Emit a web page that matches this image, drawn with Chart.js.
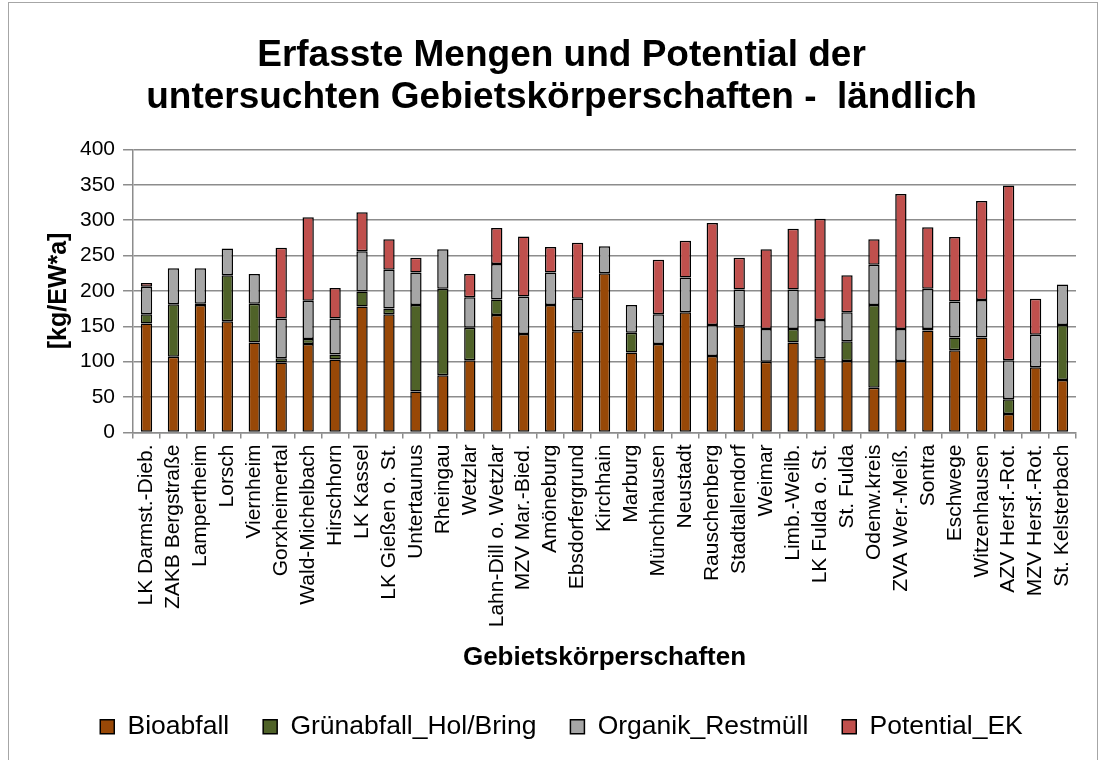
<!DOCTYPE html>
<html>
<head>
<meta charset="utf-8">
<script src="https://cdn.jsdelivr.net/npm/chart.js@4/dist/chart.umd.min.js"></script>
<style>
  html, body { margin: 0; padding: 0; background: #fff; }
  #wrap { position: relative; width: 1100px; height: 760px; }
  #frame { position: absolute; left: 8px; top: 2px; width: 1088px; height: 760px; border: 1px solid #a6a6a6; border-bottom: none; pointer-events: none; }
  canvas { display: block; }
</style>
</head>
<body>
<div id="wrap">
  <canvas id="chart" width="1100" height="760"></canvas>
  <div id="frame"></div>
</div>
<script>
const categories = [
  'LK Darmst.-Dieb.', 'ZAKB Bergstraße', 'Lampertheim', 'Lorsch', 'Viernheim', 'Gorxheimertal',
  'Wald-Michelbach', 'Hirschhorn', 'LK Kassel', 'LK Gießen o. St.', 'Untertaunus', 'Rheingau',
  'Wetzlar', 'Lahn-Dill o. Wetzlar', 'MZV Mar.-Bied.', 'Amöneburg', 'Ebsdorfergrund', 'Kirchhain',
  'Marburg', 'Münchhausen', 'Neustadt', 'Rauschenberg', 'Stadtallendorf', 'Weimar', 'Limb.-Weilb.',
  'LK Fulda o. St.', 'St. Fulda', 'Odenw.kreis', 'ZVA Wer.-Meiß.', 'Sontra', 'Eschwege',
  'Witzenhausen', 'AZV Hersf.-Rot.', 'MZV Hersf.-Rot.', 'St. Kelsterbach'
];

const bioabfall = [154, 107, 180, 157, 127, 99, 125, 103, 178, 167, 58, 81, 102, 166, 139, 180, 143, 225,
  113, 125, 170, 108, 150, 100, 127, 105, 101, 63, 101, 144, 116, 134, 26, 92, 74];
const gruenabfall = [13, 74, 2, 65, 55, 6, 7, 7, 21, 8, 122, 122, 46, 22, 0, 0, 0, 0,
  28, 0, 0, 0, 0, 0, 19, 0, 28, 117, 0, 2, 18, 0, 21, 0, 78];
const organik = [39, 51, 50, 38, 42, 56, 54, 51, 57, 55, 46, 56, 43, 50, 53, 46, 46, 38,
  39, 42, 49, 44, 52, 46, 56, 54, 41, 57, 45, 57, 51, 53, 55, 46, 57];
const potential = [5, 0, 0, 0, 0, 100, 118, 43, 55, 43, 21, 0, 33, 51, 85, 36, 79, 0,
  0, 77, 52, 144, 45, 113, 86, 143, 52, 36, 191, 87, 91, 140, 247, 51, 0];

const yTicks = [0, 50, 100, 150, 200, 250, 300, 350, 400];

const FONT = '"Liberation Sans", Arial, sans-serif';

function ds(label, data, color) {
  return {
    label, data,
    backgroundColor: color,
    borderColor: '#000',
    borderWidth: 1.5,
    borderSkipped: false,
    barPercentage: 0.42,
    categoryPercentage: 1.0,
  };
}

new Chart(document.getElementById('chart'), {
  type: 'bar',
  data: {
    labels: categories,
    datasets: [
      ds('Bioabfall', bioabfall, '#984807'),
      ds('Grünabfall_Hol/Bring', gruenabfall, '#4f6228'),
      ds('Organik_Restmüll', organik, '#a6a6a6'),
      ds('Potential_EK', potential, '#c0504d'),
    ],
  },
  options: {
    responsive: false,
    animation: false,
    layout: { padding: { left: 47, right: 24, top: 8, bottom: 10 } },
    plugins: {
      title: {
        display: true,
        text: ['Erfasste Mengen und Potential der', 'untersuchten Gebietskörperschaften -  ländlich'],
        color: '#000',
        font: { family: FONT, size: 37, weight: 'bold', lineHeight: 1.14 },
        padding: { top: 27, bottom: 30 },
      },
      legend: {
        position: 'bottom',
        labels: {
          color: '#000',
          font: { family: FONT, size: 26.5 },
          boxWidth: 14,
          boxHeight: 14,
          padding: 34,
          generateLabels(chart) {
            return chart.data.datasets.map((d, i) => ({
              text: d.label,
              fillStyle: d.backgroundColor,
              strokeStyle: '#000',
              lineWidth: 1.5,
              datasetIndex: i,
              fontColor: '#000',
            }));
          },
        },
      },
      tooltip: { enabled: false },
    },
    scales: {
      x: {
        stacked: true,
        grid: { display: true, drawOnChartArea: false, tickLength: 6, color: '#8c8c8c', lineWidth: 1.5 },
        border: { color: '#8c8c8c', width: 1.5 },
        ticks: {
          color: '#000',
          font: { family: FONT, size: 21 },
          minRotation: 90, maxRotation: 90,
          autoSkip: false,
          padding: 6,
        },
        title: {
          display: true,
          text: 'Gebietskörperschaften',
          color: '#000',
          font: { family: FONT, size: 26, weight: 'bold' },
          padding: { top: 9, bottom: 6 },
        },
      },
      y: {
        stacked: true,
        min: 0, max: 400,
        afterBuildTicks(axis) { axis.ticks = yTicks.map(v => ({ value: v })); },
        grid: { color: '#8c8c8c', lineWidth: 1.5, tickLength: 10 },
        border: { color: '#8c8c8c', width: 1.5 },
        ticks: { color: '#000', font: { family: FONT, size: 21 }, padding: 8 },
        title: {
          display: true,
          text: '[kg/EW*a]',
          color: '#000',
          font: { family: FONT, size: 25, weight: 'bold', lineHeight: 1.0 },
          padding: { top: 0, bottom: 0 },
        },
      },
    },
  },
});
</script>
</body>
</html>
